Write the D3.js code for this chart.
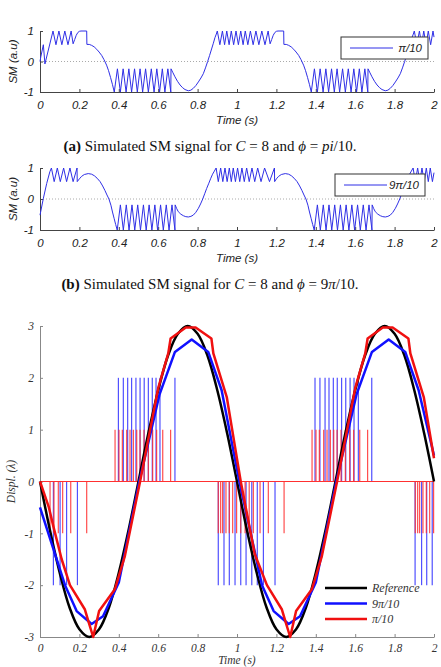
<!DOCTYPE html>
<html>
<head>
<meta charset="utf-8">
<script src="https://cdn.jsdelivr.net/npm/d3@7"></script>
<style>
  body { margin: 0; background: #fff; }
  svg { display: block; }
  .sm text { font-family: "Liberation Sans", Arial, sans-serif; font-style: italic; font-size: 11.5px; fill: #222; }
  .disp text { font-family: "Liberation Serif", "Times New Roman", serif; font-style: italic; font-size: 11.5px; fill: #333; }
  .cap { font-family: "Liberation Serif", "Times New Roman", serif; font-size: 15px; fill: #111; }
</style>
</head>
<body>
<svg width="441" height="667"></svg>
<script>
// ticks
const timeTicks = [0, 0.2, 0.4, 0.6, 0.8, 1, 1.2, 1.4, 1.6, 1.8, 2];
const timeLabels = ["0", "0.2", "0.4", "0.6", "0.8", "1", "1.2", "1.4", "1.6", "1.8", "2"];
const smTicks = [-1, 0, 1];
const dispTicks = [-3, -2, -1, 0, 1, 2, 3];

// SM signal, phi = pi/10  [time, amplitude]
const smPi10 = [
  [0,0],[0.004,0.15],[0.017,0.55],[0.025,-0.08],[0.066,1],
  [0.081,0.55],[0.096,1],[0.111,0.55],[0.126,1],[0.142,0.55],[0.158,1],[0.168,0.58],
  [0.176,0.72],[0.184,0.86],[0.192,0.95],[0.2,0.99],[0.208,1],[0.237,1],[0.238,0.56],
  [0.25,0.56],[0.262,0.53],[0.275,0.48],[0.288,0.4],[0.3,0.31],[0.313,0.2],[0.325,0.06],[0.338,-0.12],[0.348,-0.3],[0.358,-0.52],[0.368,-0.76],[0.377,-1],
  [0.393,-0.24],[0.408,-1],[0.422,-0.24],[0.437,-1],[0.451,-0.24],[0.465,-1],[0.48,-0.24],[0.494,-1],[0.508,-0.24],[0.521,-1],[0.536,-0.24],[0.55,-1],[0.565,-0.24],[0.579,-1],[0.593,-0.24],[0.607,-1],[0.621,-0.24],[0.634,-1],[0.649,-0.24],[0.664,-1],[0.665,-0.24],
  [0.675,-0.37],[0.685,-0.5],[0.698,-0.65],[0.711,-0.77],[0.724,-0.86],[0.736,-0.92],[0.753,-0.96],[0.766,-0.94],[0.778,-0.88],[0.791,-0.79],[0.804,-0.67],[0.817,-0.54],[0.829,-0.4],[0.84,-0.21],[0.851,0],[0.861,0.2],[0.871,0.41],[0.88,0.6],[0.888,0.78],[0.895,0.9],[0.9,1],
  [0.913,0.55],[0.926,1],[0.937,0.55],[0.948,1],[0.96,0.55],[0.971,1],[0.983,0.55],[0.995,1],[1.007,0.55],[1.019,1],[1.031,0.55],[1.042,1],[1.055,0.55],[1.068,1],[1.082,0.55],[1.096,1],[1.111,0.55],[1.126,1],[1.142,0.55],[1.158,1],[1.168,0.58],
  [1.176,0.72],[1.184,0.86],[1.192,0.95],[1.2,0.99],[1.208,1],[1.237,1],[1.238,0.56],
  [1.25,0.56],[1.262,0.53],[1.275,0.48],[1.288,0.4],[1.3,0.31],[1.313,0.2],[1.325,0.06],[1.338,-0.12],[1.348,-0.3],[1.358,-0.52],[1.368,-0.76],[1.377,-1],
  [1.393,-0.24],[1.408,-1],[1.422,-0.24],[1.437,-1],[1.451,-0.24],[1.465,-1],[1.48,-0.24],[1.494,-1],[1.508,-0.24],[1.521,-1],[1.536,-0.24],[1.55,-1],[1.565,-0.24],[1.579,-1],[1.593,-0.24],[1.607,-1],[1.621,-0.24],[1.634,-1],[1.649,-0.24],[1.664,-1],[1.665,-0.24],
  [1.675,-0.37],[1.685,-0.5],[1.698,-0.65],[1.711,-0.77],[1.724,-0.86],[1.736,-0.92],[1.753,-0.96],[1.766,-0.94],[1.778,-0.88],[1.791,-0.79],[1.804,-0.67],[1.817,-0.54],[1.829,-0.4],[1.84,-0.21],[1.851,0],[1.861,0.2],[1.871,0.41],[1.88,0.6],[1.888,0.78],[1.895,0.9],[1.9,1],
  [1.913,0.55],[1.926,1],[1.937,0.55],[1.948,1],[1.96,0.55],[1.971,1],[1.983,0.55],[1.995,1],[2,0.8]
];

// SM signal, phi = 9pi/10
const sm9Pi10 = [
  [0,-0.52],[0.017,0.02],[0.034,0.5],[0.05,0.88],[0.058,1],
  [0.072,0.56],[0.088,1],[0.103,0.56],[0.12,1],[0.135,0.56],[0.152,1],[0.168,0.56],[0.188,1],[0.189,0.56],
  [0.2,0.65],[0.211,0.73],[0.225,0.79],[0.245,0.82],[0.262,0.8],[0.276,0.75],[0.29,0.67],[0.305,0.56],[0.318,0.42],[0.33,0.27],[0.34,0.13],[0.35,0],[0.36,-0.2],[0.368,-0.42],[0.376,-0.62],[0.384,-0.82],[0.392,-1],
  [0.408,-0.19],[0.423,-1],[0.438,-0.19],[0.452,-1],[0.467,-0.19],[0.481,-1],[0.496,-0.19],[0.51,-1],[0.525,-0.19],[0.539,-1],[0.554,-0.19],[0.568,-1],[0.583,-0.19],[0.597,-1],[0.612,-0.19],[0.626,-1],[0.641,-0.19],[0.655,-1],[0.67,-0.19],[0.685,-1],[0.686,-0.19],
  [0.694,-0.31],[0.702,-0.41],[0.715,-0.49],[0.728,-0.54],[0.74,-0.57],[0.753,-0.58],[0.766,-0.56],[0.778,-0.52],[0.791,-0.43],[0.804,-0.3],[0.815,-0.16],[0.826,0],[0.836,0.17],[0.846,0.34],[0.857,0.51],[0.867,0.67],[0.876,0.8],[0.885,0.9],[0.894,1],
  [0.905,0.56],[0.917,1],[0.928,0.56],[0.939,1],[0.95,0.56],[0.961,1],[0.971,0.56],[0.981,1],[0.992,0.56],[1.003,1],[1.014,0.56],[1.025,1],[1.037,0.56],[1.049,1],[1.062,0.56],[1.076,1],[1.09,0.56],[1.105,1],[1.122,0.56],[1.14,1],[1.165,0.56],[1.19,1],[1.191,0.56],
  [1.2,0.65],[1.211,0.73],[1.225,0.79],[1.245,0.82],[1.262,0.8],[1.276,0.75],[1.29,0.67],[1.305,0.56],[1.318,0.42],[1.33,0.27],[1.34,0.13],[1.35,0],[1.36,-0.2],[1.368,-0.42],[1.376,-0.62],[1.384,-0.82],[1.392,-1],
  [1.408,-0.19],[1.423,-1],[1.438,-0.19],[1.452,-1],[1.467,-0.19],[1.481,-1],[1.496,-0.19],[1.51,-1],[1.525,-0.19],[1.539,-1],[1.554,-0.19],[1.568,-1],[1.583,-0.19],[1.597,-1],[1.612,-0.19],[1.626,-1],[1.641,-0.19],[1.655,-1],[1.67,-0.19],[1.685,-1],[1.686,-0.19],
  [1.694,-0.31],[1.702,-0.41],[1.715,-0.49],[1.728,-0.54],[1.74,-0.57],[1.753,-0.58],[1.766,-0.56],[1.778,-0.52],[1.791,-0.43],[1.804,-0.3],[1.815,-0.16],[1.826,0],[1.836,0.17],[1.846,0.34],[1.857,0.51],[1.867,0.67],[1.876,0.8],[1.885,0.9],[1.894,1],
  [1.905,0.56],[1.917,1],[1.928,0.56],[1.939,1],[1.95,0.56],[1.961,1],[1.971,0.56],[1.981,1],[1.992,0.56],[2,0.85]
];

// displacement panel
const refTime = [0,0.05,0.1,0.15,0.2,0.25,0.3,0.35,0.4,0.45,0.5,0.55,0.6,0.65,0.7,0.75,0.8,0.85,0.9,0.95,1,
                 1.05,1.1,1.15,1.2,1.25,1.3,1.35,1.4,1.45,1.5,1.55,1.6,1.65,1.7,1.75,1.8,1.85,1.9,1.95,2];
const refDispl = [0,-0.93,-1.76,-2.43,-2.85,-3,-2.85,-2.43,-1.76,-0.93,0,0.93,1.76,2.43,2.85,3,2.85,2.43,1.76,0.93,0,
                  -0.93,-1.76,-2.43,-2.85,-3,-2.85,-2.43,-1.76,-0.93,0,0.93,1.76,2.43,2.85,3,2.85,2.43,1.76,0.93,0];

const rec9Pi10 = [
  [0,-0.5],[0.127,-2],[0.186,-2.5],[0.262,-2.75],[0.32,-2.6],[0.4,-1.95],[0.504,0],[0.606,1.67],[0.685,2.5],[0.77,2.74],[0.854,2.5],[0.922,1.76],
  [1.012,0],[1.127,-2],[1.186,-2.5],[1.262,-2.75],[1.32,-2.6],[1.4,-1.95],[1.504,0],[1.606,1.67],[1.685,2.5],[1.77,2.74],[1.854,2.5],[1.922,1.76],[2,0.5]
];
const recPi10 = [
  [0,0],[0.02,-0.22],[0.045,-0.5],[0.07,-0.9],[0.11,-1.5],[0.152,-2],[0.228,-2.47],[0.245,-2.69],[0.27,-3],[0.3,-2.5],[0.38,-2.08],[0.43,-1.45],[0.508,0],[0.6,1.8],[0.651,2.47],[0.663,2.76],[0.74,2.97],[0.79,2.97],[0.87,2.76],[0.88,2.47],[0.948,1.63],
  [1.019,0],[1.09,-1.4],[1.152,-2],[1.228,-2.47],[1.245,-2.69],[1.27,-3],[1.3,-2.5],[1.38,-2.08],[1.43,-1.45],[1.508,0],[1.6,1.8],[1.651,2.47],[1.663,2.76],[1.74,2.97],[1.79,2.97],[1.87,2.76],[1.88,2.47],[1.948,1.63],[2,0.45]
];

// fringe impulses [time, height]
const stemsPi10 = [
  [0.051,-1],[0.071,-1],[0.093,-1],[0.115,-1],[0.156,-1],[0.237,-1],
  [0.381,1],[0.401,1],[0.418,1],[0.44,1],[0.457,1],[0.474,1],[0.491,1],[0.508,1],[0.528,1],[0.55,1],[0.572,1],[0.592,1],[0.623,1],[0.663,1],
  [0.905,-1],[0.917,-1],[0.927,-1],[0.944,-1],[0.961,-1],[0.978,-1],[0.998,-1],[1.019,-1],[1.041,-1],[1.062,-1],[1.083,-1],[1.117,-1],[1.159,-1],[1.239,-1],
  [1.381,1],[1.401,1],[1.418,1],[1.44,1],[1.457,1],[1.474,1],[1.491,1],[1.508,1],[1.528,1],[1.55,1],[1.572,1],[1.592,1],[1.623,1],[1.663,1],
  [1.905,-1],[1.917,-1],[1.927,-1],[1.944,-1],[1.961,-1],[1.978,-1],[1.998,-1]
];
const stems9Pi10 = [
  [0.068,-2],[0.102,-2],[0.135,-2],[0.19,-2],
  [0.398,2],[0.423,2],[0.445,2],[0.465,2],[0.487,2],[0.508,2],[0.529,2],[0.55,2],[0.57,2],[0.589,2],[0.609,2],[0.685,2],
  [0.905,-2],[0.934,-2],[0.961,-2],[0.99,-2],[1.019,-2],[1.046,-2],[1.075,-2],[1.103,-2],[1.134,-2],[1.193,-2],
  [1.396,2],[1.421,2],[1.447,2],[1.467,2],[1.489,2],[1.509,2],[1.531,2],[1.552,2],[1.574,2],[1.594,2],[1.616,2],[1.684,2],
  [1.904,-2],[1.937,-2],[1.963,-2],[1.991,-2]
];

const svg = d3.select("svg");
const x = d3.scaleLinear().domain([0, 2]).range([40, 434]);

function smPanel(data, top, bottom, label, box) {
  const y = d3.scaleLinear().domain([-1, 1]).range([bottom, top]);
  const g = svg.append("g").attr("class", "sm");

  g.append("line")
    .attr("x1", x(0)).attr("x2", x(2))
    .attr("y1", y(0)).attr("y2", y(0))
    .attr("stroke", "#aaa").attr("stroke-dasharray", "1,2");

  const xa = g.append("g")
    .attr("transform", `translate(0,${bottom})`)
    .call(d3.axisBottom(x).tickValues(timeTicks).tickFormat((d, i) => timeLabels[i])
      .tickSize(-3).tickSizeOuter(0).tickPadding(9));
  const ya = g.append("g")
    .attr("transform", `translate(${x(0)},0)`)
    .call(d3.axisLeft(y).tickValues(smTicks).tickFormat(d => d)
      .tickSize(-3).tickSizeOuter(0).tickPadding(6));
  [xa, ya].forEach(a => {
    a.selectAll("path,line").attr("stroke", "#444");
    a.selectAll("text").attr("font-size", null).attr("font-family", null);
  });

  g.append("path")
    .datum(data)
    .attr("fill", "none")
    .attr("stroke", "#2f2fe6")
    .attr("stroke-width", 1)
    .attr("d", d3.line().x(d => x(d[0])).y(d => y(d[1])));

  g.append("text")
    .attr("x", 237).attr("y", bottom + 32)
    .attr("text-anchor", "middle")
    .text("Time (s)");

  g.append("text")
    .attr("transform", `translate(17,${(top + bottom) / 2}) rotate(-90)`)
    .attr("text-anchor", "middle")
    .text("SM (a.u)");

  // legend
  g.append("rect")
    .attr("x", box[0]).attr("y", box[1]).attr("width", box[2]).attr("height", box[3])
    .attr("fill", "#fff").attr("stroke", "#333").attr("stroke-width", 1);
  const ly = box[1] + box[3] / 2;
  g.append("line")
    .attr("x1", box[0] + 9).attr("x2", box[0] + 52)
    .attr("y1", ly).attr("y2", ly)
    .attr("stroke", "#2f2fe6");
  g.append("text")
    .attr("x", box[0] + box[2] - 6).attr("y", ly + 4)
    .attr("text-anchor", "end")
    .text(label);
}

smPanel(smPi10, 31, 92, "\u03c0/10", [341, 37, 87, 22]);
smPanel(sm9Pi10, 168, 230, "9\u03c0/10", [335, 174, 90, 22]);

function caption(y, tag, phi) {
  const t = svg.append("text").attr("class", "cap")
    .attr("x", 210).attr("y", y).attr("text-anchor", "middle");
  t.append("tspan").attr("font-weight", "bold").text(tag);
  t.append("tspan").text(" Simulated SM signal for ");
  t.append("tspan").attr("font-style", "italic").text("C");
  t.append("tspan").text(" = 8 and ");
  t.append("tspan").attr("font-style", "italic").text("\u03d5");
  t.append("tspan").text(" = ");
  phi.forEach(p => t.append("tspan").attr("font-style", p[1] ? "italic" : null).text(p[0]));
}
caption(151, "(a)", [["pi", true], ["/10.", false]]);
caption(289, "(b)", [["9", false], ["\u03c0", true], ["/10.", false]]);

// displacement panel
const yd = d3.scaleLinear().domain([-3, 3]).range([637, 326]);
const gd = svg.append("g").attr("class", "disp");

const xa = gd.append("g")
  .attr("transform", `translate(0,${yd(-3)})`)
  .call(d3.axisBottom(x).tickValues(timeTicks).tickFormat((d, i) => timeLabels[i])
    .tickSize(-3).tickSizeOuter(0).tickPadding(7));
const ya = gd.append("g")
  .attr("transform", `translate(${x(0)},0)`)
  .call(d3.axisLeft(yd).tickValues(dispTicks).tickFormat(d => d)
    .tickSize(-3).tickSizeOuter(0).tickPadding(6));
[xa, ya].forEach(a => {
  a.selectAll("path,line").attr("stroke", "#888");
  a.selectAll("text").attr("font-size", null).attr("font-family", null);
});

gd.selectAll("line.s9")
  .data(stems9Pi10).enter().append("line")
  .attr("class", "s9")
  .attr("x1", d => x(d[0])).attr("x2", d => x(d[0]))
  .attr("y1", yd(0)).attr("y2", d => yd(d[1]))
  .attr("stroke", "#3333ff").attr("stroke-width", 1.2).attr("opacity", 0.85);

gd.selectAll("line.s1")
  .data(stemsPi10).enter().append("line")
  .attr("class", "s1")
  .attr("x1", d => x(d[0])).attr("x2", d => x(d[0]))
  .attr("y1", yd(0)).attr("y2", d => yd(d[1]))
  .attr("stroke", "#ff3030").attr("stroke-width", 1.2).attr("opacity", 0.85);

gd.append("line")
  .attr("x1", x(0)).attr("x2", x(2))
  .attr("y1", yd(0)).attr("y2", yd(0))
  .attr("stroke", "#ff3030").attr("stroke-width", 1.2);

const ref = refTime.map((t, i) => [t, refDispl[i]]);
const lineD = d3.line().x(d => x(d[0])).y(d => yd(d[1]));

gd.append("path").datum(ref)
  .attr("fill", "none").attr("stroke", "#000").attr("stroke-width", 2.5)
  .attr("d", lineD.curve(d3.curveCatmullRom));
gd.append("path").datum(rec9Pi10)
  .attr("fill", "none").attr("stroke", "#1010ff").attr("stroke-width", 2.5)
  .attr("stroke-linejoin", "round")
  .attr("d", d3.line().x(d => x(d[0])).y(d => yd(d[1])));
gd.append("path").datum(recPi10)
  .attr("fill", "none").attr("stroke", "#f01010").attr("stroke-width", 2.5)
  .attr("stroke-linejoin", "round")
  .attr("d", d3.line().x(d => x(d[0])).y(d => yd(d[1])));

gd.append("text")
  .attr("x", 237).attr("y", 664)
  .attr("text-anchor", "middle")
  .text("Time (s)");
gd.append("text")
  .attr("transform", `translate(15,${yd(0)}) rotate(-90)`)
  .attr("text-anchor", "middle")
  .text("Displ. (\u03bb)");

const legend = [["Reference", "#000"], ["9\u03c0/10", "#1010ff"], ["\u03c0/10", "#f01010"]];
legend.forEach((l, i) => {
  const ly = 588 + i * 15.5;
  gd.append("line")
    .attr("x1", 325).attr("x2", 367).attr("y1", ly).attr("y2", ly)
    .attr("stroke", l[1]).attr("stroke-width", 2.5);
  gd.append("text")
    .attr("x", 372).attr("y", ly + 4)
    .style("font-size", "12px")
    .text(l[0]);
});
</script>
</body>
</html>
